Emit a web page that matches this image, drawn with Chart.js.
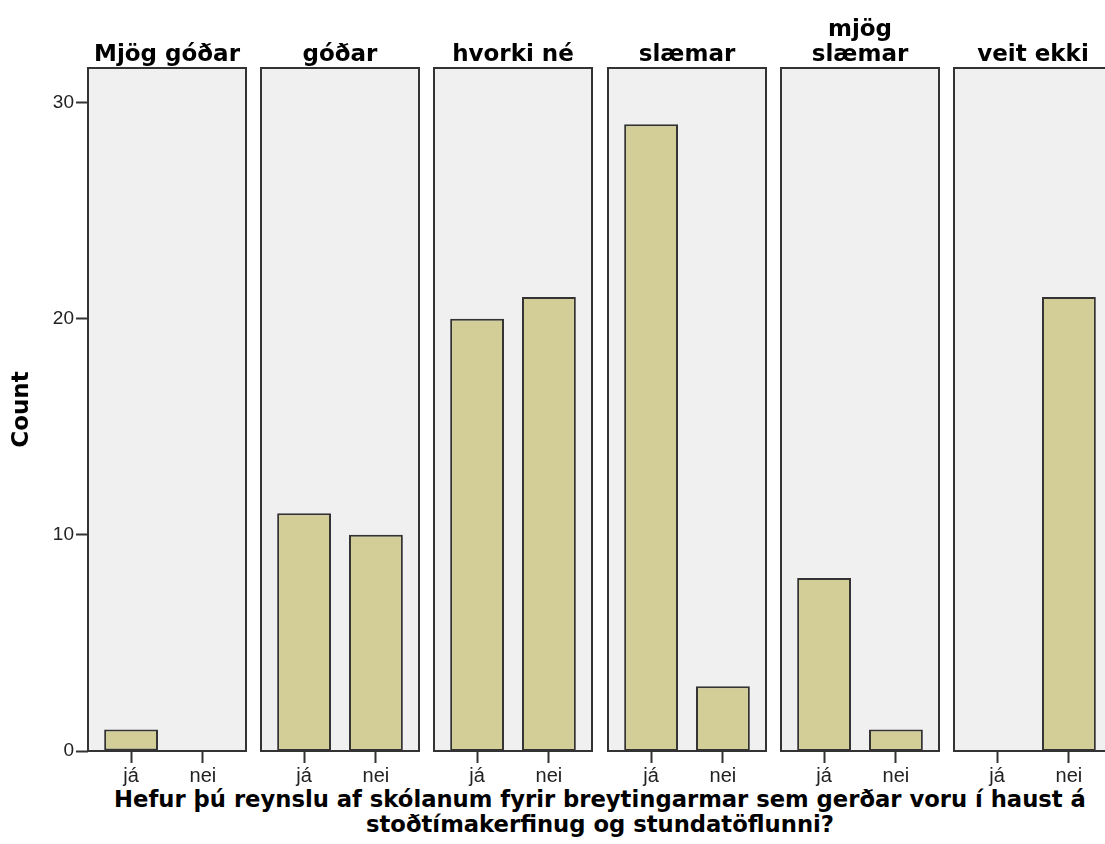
<!DOCTYPE html>
<html>
<head>
<meta charset="utf-8">
<script src="https://cdn.jsdelivr.net/npm/chart.js@4"></script>
<style>
    html, body { margin: 0; padding: 0; background: #fff; width: 1105px; height: 844px; overflow: hidden; }
    canvas { position: absolute; top: 0; }
    #xtitle {
        position: absolute; left: 88px; width: 1024px; top: 787px;
        text-align: center; font: bold 22.7px "DejaVu Sans"; line-height: 25px; color: #000;
    }
</style>
</head>
<body>
<div id="xtitle">Hefur þú reynslu af skólanum fyrir breytingarmar sem gerðar voru í haust á<br>stoðtímakerfinug og stundatöflunni?</div>
<script>
// one panel per answer group, each panel has the two answers
var panelTitles = [["", "Mjög góðar"], ["", "góðar"], ["", "hvorki né"], ["", "slæmar"], ["mjög", "slæmar"], ["", "veit ekki"]];
var answers = ["já", "nei"];
var jaCounts = [1, 11, 20, 29, 8, 0];
var neiCounts = [0, 10, 21, 3, 1, 21];
var countTicks = [0, 10, 20, 30];
var countMax = 31.6;

var PANEL_LEFT = 88, PANEL_STEP = 173.2, PANEL_W = 158, PAD = 10;
var CANVAS_H = 800, XAXIS_H = 49;

var panelBox = {
    id: "panelBox",
    beforeDatasetsDraw: function (chart) {
        var ctx = chart.ctx, a = chart.chartArea;
        ctx.save();
        ctx.fillStyle = "#f0f0f0";
        ctx.fillRect(a.left, a.top, a.right - a.left, a.bottom - a.top);
        ctx.restore();
    },
    afterDatasetsDraw: function (chart) {
        var ctx = chart.ctx, a = chart.chartArea;
        ctx.save();
        ctx.strokeStyle = "#333";
        ctx.lineWidth = 2;
        ctx.strokeRect(a.left, a.top, a.right - a.left, a.bottom - a.top);
        ctx.restore();
    }
};

panelTitles.forEach(function (title, i) {
    var first = i === 0;
    var left = first ? 0 : Math.round(PANEL_LEFT + PANEL_STEP * i) - PAD;
    var width = first ? PANEL_LEFT + PANEL_W + PAD : PANEL_W + 2 * PAD;
    var cv = document.createElement("canvas");
    cv.width = width;
    cv.height = CANVAS_H;
    cv.style.left = left + "px";
    document.body.appendChild(cv);

    var counts = [jaCounts[i], neiCounts[i]];

    new Chart(cv.getContext("2d"), {
        type: "bar",
        data: {
            datasets: [{
                data: answers.map(function (a, j) { return { x: j, y: counts[j] }; }),
                backgroundColor: "#d3ce97",
                borderColor: "#333",
                borderWidth: 2,
                borderSkipped: false,
                barPercentage: 0.75,
                categoryPercentage: 1
            }]
        },
        options: {
            responsive: false,
            animation: false,
            layout: { padding: { left: first ? 0 : PAD, right: PAD, top: 0, bottom: 0 } },
            plugins: {
                legend: { display: false },
                tooltip: { enabled: false },
                title: {
                    display: true,
                    fullSize: false,
                    text: title,
                    color: "#000",
                    font: { family: "DejaVu Sans", size: 23, weight: "bold", lineHeight: "25px" },
                    padding: { top: 18, bottom: 0 }
                }
            },
            scales: {
                x: {
                    type: "linear",
                    min: -0.6,
                    max: 1.6,
                    offset: false,
                    afterBuildTicks: function (s) {
                        s.ticks = answers.map(function (a, j) { return { value: j }; });
                    },
                    afterFit: function (s) { s.height = XAXIS_H; },
                    border: { display: false },
                    grid: { offset: false, drawOnChartArea: false, drawTicks: true, tickLength: 12, tickColor: "#333", tickWidth: 2 },
                    ticks: {
                        autoSkip: false,
                        maxRotation: 0,
                        padding: 1,
                        color: "#222",
                        font: { family: "Liberation Sans", size: 20 },
                        callback: function (v) { return answers[v]; }
                    }
                },
                y: {
                    display: first,
                    min: 0,
                    max: countMax,
                    afterBuildTicks: function (s) {
                        s.ticks = countTicks.map(function (v) { return { value: v }; });
                    },
                    afterFit: function (s) { if (first) s.width = PANEL_LEFT; },
                    border: { display: false },
                    grid: { drawOnChartArea: false, drawTicks: true, tickLength: 12, tickColor: "#333", tickWidth: 2 },
                    ticks: {
                        padding: 2,
                        color: "#222",
                        font: { family: "Liberation Sans", size: 19 }
                    },
                    title: {
                        display: true,
                        text: "Count",
                        color: "#000",
                        font: { family: "DejaVu Sans", size: 23, weight: "bold" },
                        padding: { top: 8, bottom: 0 }
                    }
                }
            }
        },
        plugins: [panelBox]
    });
});
</script>
</body>
</html>
